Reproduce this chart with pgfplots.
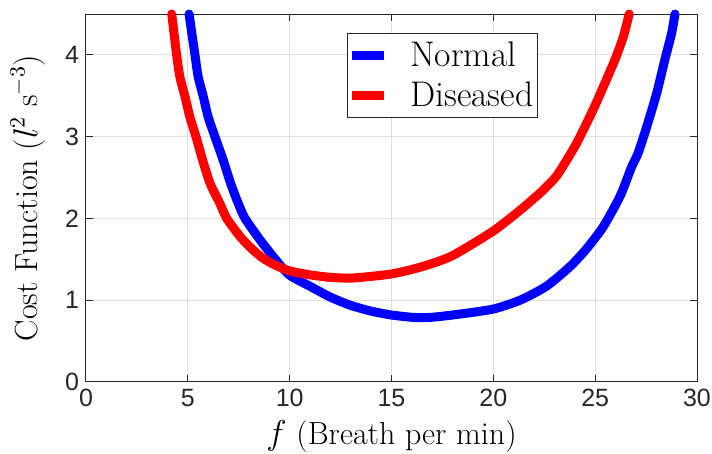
\documentclass[border=0pt]{standalone}
\usepackage{fontspec}
\usepackage{pgfplots}
\pgfplotsset{compat=1.18}
\newfontfamily\tickfont{Liberation Sans}
\definecolor{axgray}{RGB}{38,38,38}
\definecolor{gridgray}{RGB}{223,223,223}
\begin{document}
\begin{tikzpicture}
\begin{axis}[
  scale only axis, width=305.5pt, height=184pt,
  xmin=0, xmax=30, ymin=0, ymax=4.5,
  xtick={0,5,...,30}, ytick={0,1,2,3,4},
  grid=major, major grid style={gridgray, line width=0.5pt},
  axis line style={axgray, line width=0.5pt},
  tick style={axgray, line width=0.5pt}, tick align=inside, major tick length=3.5pt,
  tick label style={font=\tickfont\fontsize{12.5}{15}\selectfont, text=axgray},
  /pgf/number format/assume math mode=true,
  label style={font=\fontsize{16}{19}\selectfont},
  xlabel={$f$ (Breath per min)},
  ylabel={Cost Function ($l^2$ s$^{-3}$)},
  x label style={at={(axis description cs:0.5,-0.149)}, anchor=center},
  y label style={at={(axis description cs:-0.095,0.5)}, anchor=center, rotate=0},
  clip=false,
  legend cell align=left,
  legend image code/.code={\draw[#1, line width=4.5pt, line cap=butt] (0pt,0pt) -- (16pt,0pt); \path[draw=none, fill=none] (0pt,0pt) -- (27pt,0pt);},
  legend style={at={(0.4277,0.9476)}, anchor=north west, draw=axgray, line width=0.5pt,
    font=\fontsize{17.8}{21}\selectfont, inner xsep=0pt, inner ysep=2pt,
    nodes={inner sep=2pt, text depth=0.15em}, row sep=2pt},
]
\addplot[blue, line width=4.5pt, line cap=round, line join=round, smooth, tension=0.4] coordinates {
(5.06,4.5)(5.35,4.0)(5.51,3.73)(5.76,3.49)(6.0,3.24)(6.33,3.0)(6.74,2.71)(7.1,2.43)
(7.48,2.18)(7.81,2.0)(8.54,1.74)(9.2,1.53)(9.98,1.31)(11.0,1.17)(11.98,1.04)(12.96,0.94)
(13.94,0.87)(14.97,0.82)(16.07,0.79)(16.89,0.79)(18.03,0.82)(19.96,0.89)(21.31,1.0)
(22.6,1.17)(23.76,1.41)(24.58,1.63)(25.4,1.90)(26.22,2.27)(26.79,2.63)(27.11,2.80)
(27.53,3.12)(28.02,3.53)(28.42,3.94)(28.75,4.26)(28.92,4.5)
};
\addlegendentry{Normal}
\addplot[red, line width=4.5pt, line cap=round, line join=round, smooth, tension=0.4] coordinates {
(4.21,4.5)(4.45,4.0)(4.61,3.73)(4.86,3.49)(5.1,3.24)(5.4,3.0)(5.73,2.71)(6.09,2.43)
(6.58,2.18)(6.91,2.0)(7.56,1.78)(8.05,1.65)(8.6,1.53)(9.2,1.44)(9.98,1.36)(11.0,1.31)(11.98,1.28)
(12.96,1.27)(13.94,1.29)(14.97,1.32)(15.9,1.37)(16.89,1.44)(18.03,1.55)(19.96,1.84)
(21.31,2.10)(22.29,2.31)(22.94,2.47)(23.27,2.58)(24.09,2.92)(24.9,3.33)(25.4,3.61)
(25.97,3.94)(26.38,4.22)(26.67,4.5)
};
\addlegendentry{Diseased}
\end{axis}
\pgfresetboundingbox
\path[use as bounding box] (-43pt,-36pt) rectangle (313pt,191pt);
\end{tikzpicture}
\end{document}
